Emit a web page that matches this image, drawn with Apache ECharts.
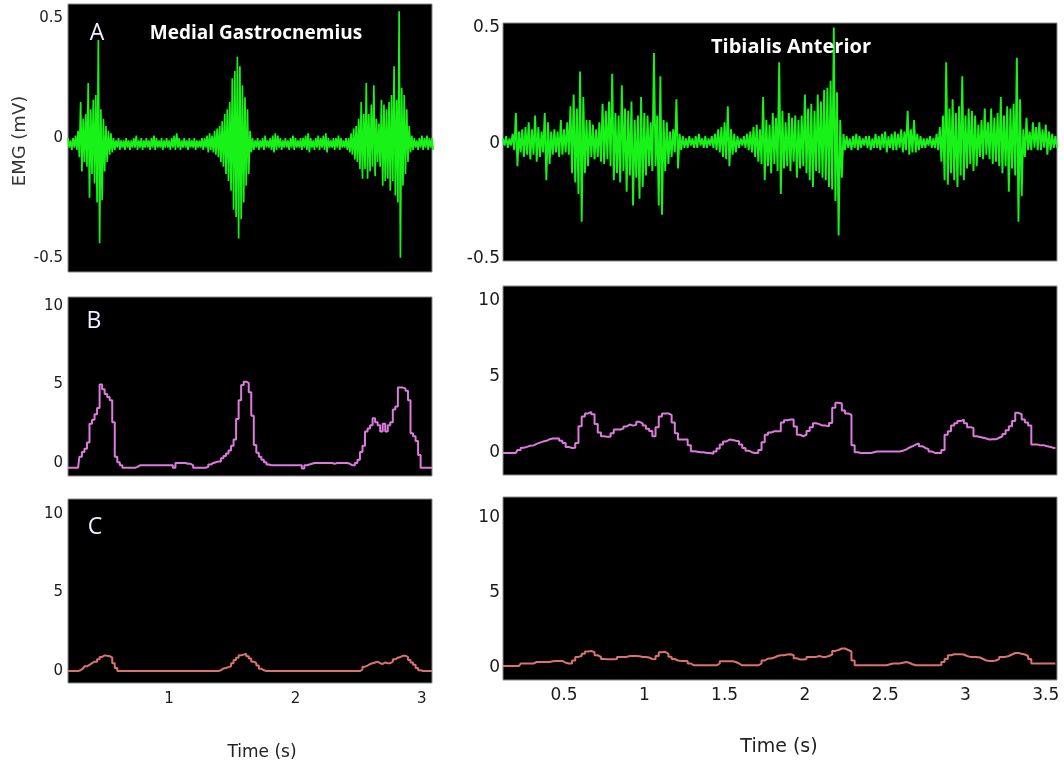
<!DOCTYPE html>
<html>
<head>
<meta charset="utf-8">
<title>EMG - Medial Gastrocnemius / Tibialis Anterior</title>
<script src="https://cdn.jsdelivr.net/npm/echarts@6/dist/echarts.min.js"></script>
<style>
  html, body { margin: 0; padding: 0; background: #fff; }
  #chart { width: 1064px; height: 766px; }
</style>
</head>
<body>
<div id="chart"></div>
<script>
// sampling of the arrays below (s)
let step = 0.02;
let mgStart = 0.20;   // medial gastrocnemius, left column
let taStart = 0.12;   // tibialis anterior, right column

// raw EMG (mV): upper and lower excursion per sample
let mgRawUpper = [
  0.00,-0.01,0.00,0.01,0.03,0.15,0.08,0.10,0.23,0.12,
  0.16,0.18,0.41,0.12,0.08,0.05,0.03,0.02,0.00,-0.01,
  0.00,-0.01,-0.01,0.00,-0.01,-0.01,0.00,0.01,-0.01,0.00,
  -0.01,0.00,-0.01,0.00,0.01,0.00,-0.01,0.00,-0.01,0.00,
  -0.01,0.00,0.01,0.02,0.00,-0.01,0.00,-0.01,0.00,-0.01,
  0.00,-0.01,-0.01,0.00,0.00,0.01,0.02,0.01,0.03,0.04,
  0.05,0.07,0.10,0.12,0.15,0.25,0.28,0.34,0.30,0.22,
  0.17,0.12,0.03,0.00,
  -0.01,0.00,-0.01,0.00,0.01,-0.01,0.00,0.01,0.02,0.01,
  0.00,-0.01,0.00,-0.01,0.00,0.01,0.00,-0.01,0.00,0.00,
  0.01,0.02,0.00,-0.01,0.00,0.01,0.00,0.01,0.02,0.00,
  -0.01,0.00,0.00,0.01,0.00,-0.01,0.00,
  0.00,0.02,0.04,0.05,0.08,0.15,0.10,0.23,0.10,0.14,
  0.22,0.08,0.06,0.16,0.14,0.12,0.15,0.18,0.30,0.16,
  0.53,0.21,0.18,0.12,0.05,0.01,0.00,-0.01,0.00,0.01,
  0.00,0.01,0.00,0.00
];
let mgRawLower = [
  -0.04,-0.05,-0.04,-0.05,-0.08,-0.14,-0.10,-0.12,-0.25,-0.15,
  -0.19,-0.27,-0.44,-0.26,-0.14,-0.10,-0.07,-0.06,-0.05,-0.04,
  -0.05,-0.04,-0.05,-0.04,-0.05,-0.04,-0.04,-0.05,-0.04,-0.05,
  -0.04,-0.04,-0.05,-0.04,-0.05,-0.04,-0.04,-0.05,-0.04,-0.04,
  -0.05,-0.04,-0.05,-0.04,-0.05,-0.04,-0.04,-0.05,-0.04,-0.04,
  -0.05,-0.04,-0.04,-0.05,-0.04,-0.06,-0.05,-0.06,-0.07,-0.08,
  -0.10,-0.12,-0.15,-0.18,-0.22,-0.30,-0.33,-0.42,-0.34,-0.27,
  -0.20,-0.15,-0.06,-0.05,
  -0.04,-0.05,-0.04,-0.05,-0.04,-0.04,-0.05,-0.06,-0.05,-0.04,
  -0.05,-0.04,-0.04,-0.05,-0.04,-0.05,-0.04,-0.04,-0.05,-0.04,
  -0.05,-0.06,-0.04,-0.05,-0.04,-0.05,-0.04,-0.05,-0.06,-0.04,
  -0.04,-0.05,-0.04,-0.05,-0.04,-0.04,-0.05,
  -0.06,-0.07,-0.09,-0.10,-0.13,-0.17,-0.13,-0.17,-0.14,-0.12,
  -0.16,-0.10,-0.12,-0.20,-0.18,-0.17,-0.22,-0.18,-0.24,-0.27,
  -0.50,-0.20,-0.15,-0.10,-0.06,-0.05,-0.04,-0.05,-0.04,-0.05,
  -0.04,-0.05,-0.04,-0.05
];
let taRawUpper = [
  0.02,0.03,0.02,0.04,0.13,0.05,0.06,0.07,0.09,0.06,
  0.12,0.07,0.05,0.13,0.09,0.05,0.06,0.05,0.10,0.06,
  0.09,0.16,0.21,0.15,0.31,0.20,0.10,0.10,0.08,0.06,
  0.09,0.17,0.14,0.18,0.30,0.13,0.12,0.25,0.15,0.14,
  0.18,0.10,0.12,0.20,0.13,0.12,0.09,0.39,0.12,0.29,
  0.10,0.09,0.05,0.06,0.19,0.04,0.03,0.02,0.03,0.02,
  0.03,0.04,0.02,0.03,0.02,0.03,0.04,0.06,0.07,0.09,
  0.16,0.06,0.04,0.03,0.02,0.03,0.04,0.05,0.07,0.08,
  0.06,0.20,0.10,0.08,0.13,0.11,0.35,0.14,0.09,0.13,
  0.11,0.12,0.10,0.12,0.21,0.15,0.17,0.14,0.21,0.18,
  0.23,0.24,0.27,0.50,0.22,0.10,0.04,0.03,0.02,0.03,
  0.04,0.03,0.02,0.03,0.03,0.02,0.04,0.03,0.04,0.05,
  0.03,0.04,0.05,0.04,0.06,0.05,0.14,0.06,0.10,0.04,
  0.03,0.02,0.02,0.03,0.02,0.04,0.07,0.12,0.35,0.15,
  0.19,0.13,0.16,0.29,0.12,0.15,0.14,0.12,0.08,0.10,
  0.15,0.09,0.15,0.11,0.13,0.20,0.12,0.16,0.15,0.17,
  0.37,0.19,0.06,0.11,0.05,0.09,0.07,0.09,0.06,0.08,
  0.05,0.04,0.03
];
let taRawLower = [
  -0.01,-0.02,-0.01,-0.03,-0.10,-0.04,-0.06,-0.05,-0.07,-0.05,
  -0.08,-0.06,-0.04,-0.16,-0.09,-0.05,-0.04,-0.06,-0.05,-0.04,
  -0.05,-0.13,-0.17,-0.22,-0.34,-0.13,-0.10,-0.06,-0.07,-0.06,
  -0.08,-0.09,-0.07,-0.10,-0.16,-0.13,-0.17,-0.12,-0.21,-0.14,
  -0.27,-0.15,-0.24,-0.19,-0.14,-0.10,-0.12,-0.10,-0.27,-0.31,
  -0.12,-0.09,-0.06,-0.04,-0.11,-0.03,-0.02,-0.02,-0.01,-0.02,
  -0.02,-0.01,-0.02,-0.02,-0.01,-0.02,-0.03,-0.04,-0.06,-0.07,
  -0.10,-0.05,-0.04,-0.02,-0.01,-0.02,-0.03,-0.04,-0.06,-0.08,
  -0.09,-0.16,-0.10,-0.13,-0.09,-0.12,-0.22,-0.11,-0.10,-0.12,
  -0.08,-0.15,-0.11,-0.10,-0.13,-0.16,-0.19,-0.12,-0.13,-0.15,
  -0.16,-0.19,-0.20,-0.25,-0.40,-0.15,-0.03,-0.02,-0.03,-0.02,
  -0.03,-0.02,-0.01,-0.02,-0.03,-0.02,-0.02,-0.03,-0.02,-0.04,
  -0.02,-0.03,-0.03,-0.02,-0.04,-0.03,-0.05,-0.04,-0.04,-0.03,
  -0.02,-0.02,-0.01,-0.02,-0.02,-0.03,-0.08,-0.16,-0.18,-0.13,
  -0.16,-0.19,-0.14,-0.16,-0.11,-0.09,-0.12,-0.10,-0.06,-0.07,
  -0.05,-0.07,-0.09,-0.08,-0.10,-0.13,-0.10,-0.21,-0.11,-0.14,
  -0.34,-0.23,-0.06,-0.03,-0.03,-0.02,-0.03,-0.03,-0.02,-0.05,
  -0.03,-0.02,-0.02
];

// B: envelope
let mgEnvB = [
  -0.3,-0.3,-0.3,-0.3,-0.3,0.4,0.7,0.9,1.3,2.5,
  2.75,3.1,3.5,5.0,4.7,4.4,4.2,4.0,2.6,0.4,
  0.05,-0.15,-0.3,-0.3,-0.3,-0.3,-0.3,-0.25,-0.15,-0.15,
  -0.15,-0.15,-0.15,-0.15,-0.15,-0.15,-0.15,-0.15,-0.15,-0.15,
  -0.15,-0.15,-0.3,0.0,0.0,0.0,0.0,-0.05,-0.05,-0.15,
  -0.3,-0.3,-0.3,-0.3,-0.3,-0.25,-0.1,0.0,0.05,0.1,
  0.1,0.3,0.45,0.6,0.8,1.1,1.5,2.8,4.0,4.97,
  5.18,5.1,4.5,3.0,1.15,0.65,0.4,0.2,0.05,-0.1,
  -0.15,-0.15,-0.15,-0.15,-0.15,-0.15,-0.15,-0.15,-0.15,-0.15,
  -0.15,-0.15,-0.15,-0.35,-0.15,-0.1,-0.05,0.0,0.0,0.0,
  0.0,0.0,0.0,0.0,0.0,-0.05,0.0,0.0,0.0,0.0,
  0.0,-0.05,-0.15,-0.15,0.0,0.2,0.7,1.1,2.0,2.2,
  2.4,2.85,2.6,2.4,2.0,2.5,2.0,2.4,2.6,3.4,
  3.6,4.8,4.8,4.75,4.6,4.0,1.9,1.7,1.4,0.5,
  -0.3,-0.3,-0.3,-0.3,-0.3
];
let taEnvB = [
  0,0,0,0,0,0.2,0.35,0.4,0.48,0.5,
  0.6,0.68,0.75,0.8,0.9,0.95,0.95,0.95,0.8,0.66,
  0.4,0.33,0.35,0.66,1.76,2.4,2.6,2.7,2.55,1.9,
  1.35,1.1,1.06,1.06,1.3,1.54,1.54,1.6,1.75,1.87,
  1.8,1.85,2.05,1.95,1.8,1.6,1.45,1.1,1.7,2.4,
  2.6,2.6,2.5,2.0,1.3,0.88,0.88,0.88,0.5,0.11,
  0.08,0.05,0.05,0,0,-0.05,0.1,0.3,0.55,0.75,
  0.88,0.85,0.8,0.77,0.55,0.33,0.15,0.05,0,0,
  0.2,0.7,1.2,1.35,1.43,1.43,1.43,2.0,2.15,2.2,
  2.2,1.75,1.2,1.1,1.2,1.45,1.7,1.95,1.9,1.8,
  1.8,1.75,1.98,2.97,3.3,3.25,2.8,2.6,2.5,0.5,
  0.05,0,0,0,0,0.05,0.1,0.1,0.1,0.1,
  0.1,0.1,0.1,0.1,0.15,0.22,0.35,0.44,0.55,0.62,
  0.45,0.33,0.25,0.1,0,0,0,0.2,1.2,1.43,
  1.8,1.95,2.1,2.2,1.95,1.7,1.65,1.1,1.05,1.0,
  0.95,0.88,0.9,0.9,1.0,1.1,1.25,1.5,1.76,2.1,
  2.64,2.55,2.2,2.0,1.8,0.55,0.55,0.5,0.5,0.44,
  0.4,0.33,0.33
];

// C: envelope
let mgEnvC = [
  0,0,0,0,0,0.05,0.17,0.3,0.4,0.5,
  0.6,0.6,0.75,0.9,1.0,0.97,0.95,0.85,0.5,0.2,
  0,0,0,0,0,0,0,0,0,0,
  0,0,0,0,0,0,0,0,0,0,
  0,0,0,0,0,0,0,0,0,0,
  0,0,0,0,0,0,0,0,0,0,
  0.05,0.17,0.2,0.25,0.3,0.5,0.7,0.85,1.0,1.05,
  1.1,0.95,0.8,0.6,0.5,0.35,0.15,0.05,0,0,
  0,0,0,0,0,0,0,0,0,0,
  0,0,0,0,0,0,0,0,0,0,
  0,0,0,0,0,0,0,0,0,0,
  0,0,0,0,0,0,
  0.1,0.28,0.35,0.45,0.5,0.55,0.6,0.5,0.45,0.55,
  0.5,0.5,0.6,0.75,0.85,0.9,0.97,0.97,0.9,0.7,
  0.55,0.4,0.2,0.05,0,0,0,0,0
];
let taEnvC = [
  0.13,0.13,0.13,0.13,0.13,0.13,0.3,0.3,0.3,0.3,
  0.4,0.4,0.4,0.4,0.4,0.45,0.47,0.47,0.47,0.35,
  0.3,0.3,0.5,0.74,0.8,0.95,1.1,1.14,1.05,0.85,
  0.74,0.6,0.58,0.58,0.58,0.6,0.74,0.74,0.74,0.8,
  0.8,0.8,0.78,0.74,0.74,0.7,0.6,0.58,0.8,1.05,
  1.08,0.95,0.75,0.6,0.5,0.47,0.47,0.47,0.3,0.18,
  0.18,0.18,0.18,0.18,0.18,0.18,0.18,0.3,0.45,0.45,
  0.45,0.45,0.4,0.3,0.18,0.18,0.18,0.18,0.18,0.18,
  0.3,0.5,0.63,0.63,0.7,0.8,0.85,0.85,0.9,0.92,
  0.85,0.65,0.56,0.56,0.6,0.74,0.74,0.74,0.8,0.74,
  0.74,0.8,0.9,1.14,1.2,1.3,1.3,1.2,1.1,0.5,
  0.18,0.18,0.18,0.18,0.18,0.18,0.18,0.18,0.18,0.18,
  0.25,0.3,0.3,0.3,0.35,0.4,0.35,0.25,0.18,0.18,
  0.18,0.18,0.18,0.18,0.18,0.18,0.2,0.4,0.6,0.85,
  0.92,0.92,0.92,0.9,0.8,0.74,0.74,0.74,0.7,0.6,
  0.5,0.47,0.47,0.5,0.6,0.74,0.74,0.8,0.9,1.0,
  1.0,0.95,0.9,0.8,0.6,0.3,0.3,0.3,0.3,0.3,
  0.3,0.3,0.3
];

// tick labels
let emgTicks = [-0.5, 0, 0.5];
let envTicks = [0, 5, 10];
let mgTimeTicks = [1, 2, 3];
let taTimeTicks = [0.5, 1, 1.5, 2, 2.5, 3, 3.5];

function timeAt(start, i) {
  return +(start + i * step).toFixed(3);
}
// zigzag upper/lower so the raw trace fills like the recorded signal
function rawSeries(start, upper, lower) {
  let out = [];
  for (let i = 0; i < upper.length; i++) {
    out.push([timeAt(start, i), upper[i]]);
    out.push([+(timeAt(start, i) + step / 2).toFixed(3), lower[i]]);
  }
  return out;
}
function envSeries(start, vals) {
  return vals.map(function (v, i) { return [timeAt(start, i), v]; });
}

let labelColor = '#1a1a1a';
let gridBox = { show: true, backgroundColor: '#000', borderColor: '#8a8a8a', borderWidth: 1, outerBoundsMode: 'none' };

let grids = [
  Object.assign({ left: 68,  top: 4,   width: 364, height: 268 }, gridBox),
  Object.assign({ left: 503, top: 23,  width: 554, height: 238 }, gridBox),
  Object.assign({ left: 68,  top: 297, width: 364, height: 179 }, gridBox),
  Object.assign({ left: 503, top: 286, width: 554, height: 189 }, gridBox),
  Object.assign({ left: 68,  top: 499, width: 364, height: 184 }, gridBox),
  Object.assign({ left: 503, top: 497, width: 554, height: 183 }, gridBox)
];

function xAxis(idx, left, bottom) {
  return {
    gridIndex: idx, type: 'value',
    min: left ? 0.2 : 0.12, max: left ? 3.08 : 3.57,
    axisLine: { show: false }, axisTick: { show: false }, splitLine: { show: false },
    axisLabel: {
      show: bottom, customValues: left ? mgTimeTicks : taTimeTicks,
      margin: left ? 9 : 7, color: labelColor,
      fontFamily: 'DejaVu Sans', fontSize: left ? 15 : 17
    }
  };
}
function yAxis(idx, min, max, ticks, left) {
  return {
    gridIndex: idx, type: 'value', min: min, max: max,
    axisLine: { show: false }, axisTick: { show: false }, splitLine: { show: false },
    axisLabel: {
      customValues: ticks, margin: left ? 5 : 3, color: labelColor,
      fontFamily: 'DejaVu Sans', fontSize: left ? 15 : 17
    }
  };
}

let xAxes = [
  xAxis(0, true, false), xAxis(1, false, false),
  xAxis(2, true, false), xAxis(3, false, false),
  xAxis(4, true, true),  xAxis(5, false, true)
];
let yAxes = [
  yAxis(0, -0.56, 0.56, emgTicks, true),
  yAxis(1, -0.51, 0.52, emgTicks, false),
  yAxis(2, -0.83, 10.57, envTicks, true),
  yAxis(3, -1.45, 10.99, envTicks, false),
  yAxis(4, -0.76, 10.96, envTicks, true),
  yAxis(5, -0.8, 11.4, envTicks, false)
];

function line(idx, data, color, width, stepped) {
  return {
    type: 'line', xAxisIndex: idx, yAxisIndex: idx, data: data,
    symbol: 'none', showSymbol: false, sampling: null,
    step: stepped ? 'middle' : false,
    lineStyle: { color: color, width: width },
    emphasis: { disabled: true }
  };
}

let green = '#19f219', violet = '#dd7add', salmon = '#d9736b';
let series = [
  line(0, rawSeries(mgStart, mgRawUpper, mgRawLower), green, 1.7),
  line(1, rawSeries(taStart, taRawUpper, taRawLower), green, 1.9),
  line(2, envSeries(mgStart, mgEnvB), violet, 2, true),
  line(3, envSeries(taStart, taEnvB), violet, 2, true),
  line(4, envSeries(mgStart, mgEnvC), salmon, 2, true),
  line(5, envSeries(taStart, taEnvC), salmon, 2, true)
];

function txt(text, x, y, font, fill, rotation) {
  return {
    type: 'text', x: x, y: y, rotation: rotation || 0, z: 100,
    style: { text: text, font: font, fill: fill, textAlign: 'center', textVerticalAlign: 'middle' }
  };
}
let graphics = [
  txt('EMG (mV)', 20, 141, '18px "DejaVu Sans"', '#333', Math.PI / 2),
  txt('A', 97, 33, '23px "Open Sans"', '#eef3ff'),
  txt('B', 94, 321, '23px "Open Sans"', '#eef3ff'),
  txt('C', 95, 527, '23px "Open Sans"', '#eef3ff'),
  txt('Medial Gastrocnemius', 256, 34, 'bold 19px "Open Sans"', '#fff'),
  txt('Tibialis Anterior', 791, 47, 'bold 20px "Open Sans"', '#fff'),
  txt('Time (s)', 262, 753, '17px "DejaVu Sans"', '#222'),
  txt('Time (s)', 779, 747, '19px "DejaVu Sans"', '#222')
];

let chart = echarts.init(document.getElementById('chart'), null, { renderer: 'canvas' });
chart.setOption({
  animation: false,
  backgroundColor: '#fff',
  grid: grids,
  xAxis: xAxes,
  yAxis: yAxes,
  series: series,
  graphic: graphics
});
</script>
</body>
</html>
